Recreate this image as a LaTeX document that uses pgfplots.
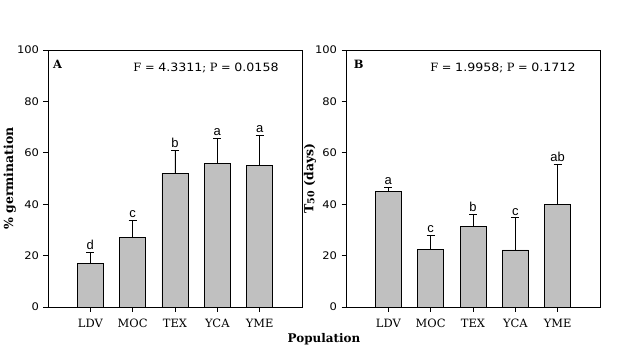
\documentclass[border=0pt]{standalone}
\usepackage{pgfplots}
\pgfplotsset{compat=1.18}
\usepackage{fontspec}
\setmainfont{DejaVu Serif}
\newfontfamily\numfont[FakeStretch=1.1]{DejaVu Sans}
\newfontfamily\arialf{Liberation Sans}
\definecolor{bargray}{RGB}{192,192,192}
\pgfplotsset{
  panel/.style={
    scale only axis, width=254bp, height=257bp,
    xmin=0, xmax=6, ymin=0, ymax=100,
    xtick={1,2,3,4,5},
    xticklabels={LDV,MOC,TEX,YCA,YME},
    ytick={0,20,40,60,80,100},
    tick align=outside, xtick pos=bottom, ytick pos=left,
    major tick length=4.5bp,
    axis line style={line width=0.9bp},
    every tick/.style={black, line width=0.8bp},
    /pgf/number format/assume math mode=true,
    yticklabel style={font=\numfont\fontsize{10.5}{12}\selectfont, xshift=-1bp},
    xticklabel style={font=\fontsize{11.5}{12}\selectfont, yshift=-4bp},
    ylabel style={anchor=center, font=\bfseries\fontsize{12.5}{12}\selectfont},
  },
  bars/.style={ybar, bar width=26bp, fill=bargray, draw=black, line width=0.8bp,
    error bars/.cd, y dir=plus, y explicit,
    error bar style={line width=0.8bp, black},
    error mark options={rotate=90, mark size=4bp, line width=0.8bp, black}},
  lets/.style={only marks, mark=none, point meta=explicit symbolic, nodes near coords,
    nodes near coords style={anchor=south, inner sep=2bp, font=\arialf\fontsize{13}{13}\selectfont, black}},
}
\begin{document}
\begin{tikzpicture}
\path[use as bounding box] (-48bp,-50bp) rectangle (578bp,307bp);
\begin{axis}[panel, ylabel={\% germination}, ylabel style={at={(rel axis cs:-0.15,0.5)}}]
\addplot[bars] coordinates {
(1,17.1) +- (0,4.3)
(2,27.2) +- (0,6.6)
(3,52.1) +- (0,9.0)
(4,56.0) +- (0,9.7)
(5,55.2) +- (0,11.6)
};
\addplot[lets] coordinates {(1,21.4)[d] (2,33.8)[c] (3,61.1)[b] (4,65.7)[a] (5,66.8)[a]};
\node[font=\bfseries\fontsize{11.5}{12}\selectfont] at (rel axis cs:0.038,0.945) {A};
\node[font=\fontsize{11.5}{12}\selectfont] at (rel axis cs:0.622,0.93) {F = {\numfont 4.3311}; P = {\numfont 0.0158}};
\end{axis}
\begin{axis}[panel, at={(298bp,0)}, ylabel={T\raisebox{-0.15ex}{\fontsize{9.5}{10}\selectfont 50} (days)}, ylabel style={at={(rel axis cs:-0.142,0.5)}}]
\addplot[bars] coordinates {
(1,45.1) +- (0,1.5)
(2,22.5) +- (0,5.5)
(3,31.5) +- (0,4.6)
(4,22.2) +- (0,12.6)
(5,39.8) +- (0,15.8)
};
\addplot[lets] coordinates {(1,46.6)[a] (2,28.0)[c] (3,36.1)[b] (4,34.8)[c] (5,55.6)[ab]};
\node[font=\bfseries\fontsize{11.5}{12}\selectfont] at (rel axis cs:0.05,0.945) {B};
\node[font=\fontsize{11.5}{12}\selectfont] at (rel axis cs:0.618,0.93) {F = {\numfont 1.9958}; P = {\numfont 0.1712}};
\end{axis}
\node[font=\bfseries\fontsize{12}{12}\selectfont] at (276bp,-32bp) {Population};
\end{tikzpicture}
\end{document}
